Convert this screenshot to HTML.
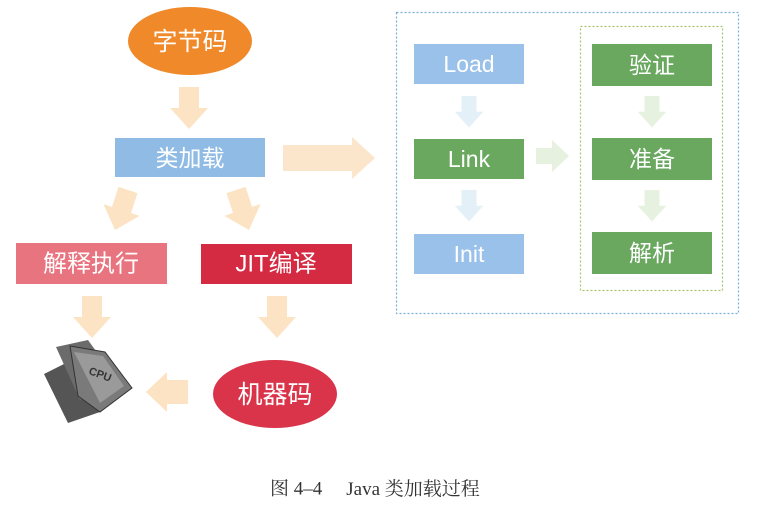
<!DOCTYPE html>
<html><head><meta charset="utf-8"><style>
html,body{margin:0;padding:0;background:#fff;}
svg{display:block}
text{font-family:"Liberation Sans","Noto Sans CJK SC",sans-serif;fill:#fff;text-anchor:middle;dominant-baseline:central}
</style></head><body>
<svg width="759" height="513" viewBox="0 0 759 513" xmlns="http://www.w3.org/2000/svg">
<defs>
<polygon id="dn" points="-10,0 10,0 10,21 19,21 0,42 -19,21 -10,21"/>
</defs>
<ellipse cx="190" cy="41" rx="62" ry="34" fill="#f0892a"/>
<text x="190" y="42" font-size="25">字节码</text>
<use href="#dn" x="189" y="87" fill="#fbe3c4"/>
<rect x="115" y="138" width="150" height="39" fill="#8fbbe5"/>
<text x="190" y="158" font-size="23">类加载</text>
<polygon points="283,145 352,145 352,137 375,158 352,179 352,171 283,171" fill="#fbe6cb"/>
<use href="#dn" transform="translate(128,190) rotate(18)" fill="#fbe3c4"/>
<use href="#dn" transform="translate(236,190) rotate(-18)" fill="#fbe3c4"/>
<rect x="16" y="243" width="151" height="41" fill="#e87480"/>
<text x="91" y="264" font-size="24">解释执行</text>
<rect x="201" y="244" width="151" height="40" fill="#d42a42"/>
<text x="276" y="264" font-size="24">JIT编译</text>
<use href="#dn" x="92" y="296" fill="#fbe3c4"/>
<use href="#dn" x="277" y="296" fill="#fbe3c4"/>
<ellipse cx="275" cy="394" rx="62" ry="34" fill="#d93449"/>
<text x="275" y="395" font-size="25">机器码</text>
<polygon points="188,380 167,380 167,372 146,392 167,412 167,404 188,404" fill="#fbe3c4"/>
<g>
<polygon points="44,374 72,360 100,412 68,423" fill="#555"/>
<polygon points="56,347 88,340 118,382 80,400" fill="#6b6b6b"/>
<polygon points="70,346 105,352 132,388 100,412 78,396" fill="#7a7a7a" stroke="#333" stroke-width="1"/>
<polygon points="74,352 103,356 124,386 100,403" fill="#9a9a9a"/>
<text x="100" y="375" font-size="11" font-weight="bold" style="fill:#333" transform="rotate(20 100 375)">CPU</text>
</g>
<rect x="396.5" y="12.5" width="342" height="301" fill="none" stroke="#7ab0d8" stroke-width="1.2" stroke-dasharray="2,2"/>
<rect x="580.5" y="26.5" width="142" height="264" fill="none" stroke="#a6c46a" stroke-width="1.2" stroke-dasharray="2,2"/>
<rect x="414" y="44" width="110" height="40" fill="#99c1ea"/>
<text x="469" y="64" font-size="23">Load</text>
<use href="#dn" transform="translate(469,96) scale(0.75)" fill="#e3f0f8"/>
<rect x="414" y="139" width="110" height="40" fill="#6aa860"/>
<text x="469" y="159" font-size="23">Link</text>
<use href="#dn" transform="translate(469,190) scale(0.75)" fill="#e3f0f8"/>
<rect x="414" y="234" width="110" height="40" fill="#99c1ea"/>
<text x="469" y="254" font-size="23">Init</text>
<polygon points="536,148 552,148 552,140 569,156 552,172 552,164 536,164" fill="#e6f1e0"/>
<rect x="592" y="44" width="120" height="42" fill="#6aa860"/>
<text x="652" y="65" font-size="23">验证</text>
<use href="#dn" transform="translate(652,96) scale(0.75)" fill="#e6f1e0"/>
<rect x="592" y="138" width="120" height="42" fill="#6aa860"/>
<text x="652" y="159" font-size="23">准备</text>
<use href="#dn" transform="translate(652,190) scale(0.75)" fill="#e6f1e0"/>
<rect x="592" y="232" width="120" height="42" fill="#6aa860"/>
<text x="652" y="253" font-size="23">解析</text>
<text x="270" y="489" font-size="19" style="fill:#333;text-anchor:start;font-family:'Liberation Serif','Noto Serif CJK SC',serif">图 4–4<tspan dx="24">Java 类加载过程</tspan></text>
</svg>
</body></html>
